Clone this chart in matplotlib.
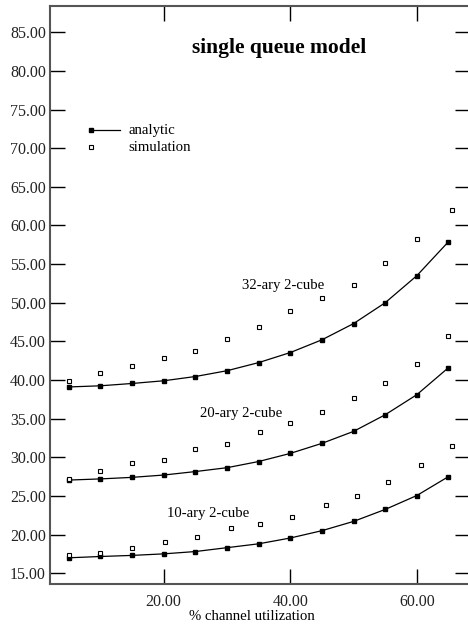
import matplotlib
matplotlib.use("Agg")
import matplotlib.pyplot as plt

plt.rcParams['font.family'] = ['Liberation Serif', 'DejaVu Serif']

# utilisation (%) for each point
util = [5, 10, 15, 20, 25, 30, 35, 40, 45, 50, 55, 60, 65]

# analytic model
ana_32 = [39.1, 39.25, 39.55, 39.9, 40.45, 41.2, 42.25, 43.55, 45.2, 47.3, 50.0, 53.5, 57.9]
ana_20 = [27.05, 27.2, 27.4, 27.7, 28.15, 28.65, 29.45, 30.5, 31.8, 33.35, 35.5, 38.1, 41.6]
ana_10 = [16.99, 17.16, 17.3, 17.5, 17.8, 18.3, 18.8, 19.55, 20.5, 21.7, 23.25, 25.05, 27.5]

# simulation results
sim_x_32 = [5, 10, 15, 20, 25, 30, 35, 40, 45, 50, 55, 60, 65.5]
sim_32 = [39.9, 40.9, 41.8, 42.8, 43.8, 45.3, 46.85, 48.9, 50.6, 52.35, 55.1, 58.2, 62.0]
sim_x_20 = [5, 10, 15, 20, 25, 30, 35.2, 40, 45, 50, 55, 60, 65]
sim_20 = [27.2, 28.25, 29.25, 29.7, 31.05, 31.7, 33.25, 34.5, 35.85, 37.65, 39.65, 42.1, 45.7]
sim_x_10 = [5.1, 10, 15, 20.2, 25.3, 30.6, 35.2, 40.2, 45.6, 50.5, 55.5, 60.7, 65.5]
sim_10 = [17.4, 17.6, 18.3, 19.05, 19.65, 20.8, 21.35, 22.3, 23.8, 25.0, 26.75, 29.0, 31.45]

series = [
    (ana_32, sim_x_32, sim_32, "32-ary 2-cube", 38.8, 52.2),
    (ana_20, sim_x_20, sim_20, "20-ary 2-cube", 32.2, 35.6),
    (ana_10, sim_x_10, sim_10, "10-ary 2-cube", 27.05, 22.7),
]

fig = plt.figure(figsize=(4.68, 6.25), dpi=100)
ax = fig.add_axes([50 / 468, 41 / 625, 420 / 468, 578 / 625])

for ana, sx, sim, name, lx, ly in series:
    ax.plot(util, ana, color='black', lw=0.9, marker='s', ms=2.9,
            mfc='black', mec='black')
    ax.plot(sx, sim, ls='none', marker='s', ms=3.3, mfc='white',
            mec='black', mew=0.8)
    ax.text(lx, ly, name, ha='center', va='center', fontsize=10.6)

ax.set_xlim(2.04, 68.4)
ax.set_ylim(13.6, 88.4)
ax.set_xticks([20, 40, 60])
ax.set_xticklabels(['20.00', '40.00', '60.00'])
yt = [15, 20, 25, 30, 35, 40, 45, 50, 55, 60, 65, 70, 75, 80, 85]
ax.set_yticks(yt)
ax.set_yticklabels(['%.2f' % v for v in yt])
ax.tick_params(direction='in', length=11, width=1, labelsize=11.5,
               top=True, right=True, labelcolor='#222222')
ax.tick_params(axis='x', pad=7)
ax.tick_params(axis='y', pad=3)
for s in ax.spines.values():
    s.set_color('#555555')
    s.set_linewidth(1.5)

ax.set_xlabel('% channel utilization', fontsize=10.6, labelpad=-4)
ax.xaxis.set_label_coords(0.481, -0.045)

ax.text(0.546, 0.927, 'single queue model', transform=ax.transAxes,
        ha='center', va='center', fontsize=15.5, fontweight='bold')

# legend drawn by hand: marker at left end of the line
ax.plot([0.097, 0.167], [0.785, 0.785], transform=ax.transAxes,
        color='black', lw=0.9)
ax.plot([0.097], [0.785], transform=ax.transAxes, marker='s', ms=2.9,
        color='black')
ax.plot([0.097], [0.756], transform=ax.transAxes, marker='s', ms=3.3,
        mfc='white', mec='black', mew=0.8)
ax.text(0.187, 0.785, 'analytic', transform=ax.transAxes, va='center',
        fontsize=10.6)
ax.text(0.187, 0.756, 'simulation', transform=ax.transAxes, va='center',
        fontsize=10.6)

fig.savefig('out.png', dpi=100)
